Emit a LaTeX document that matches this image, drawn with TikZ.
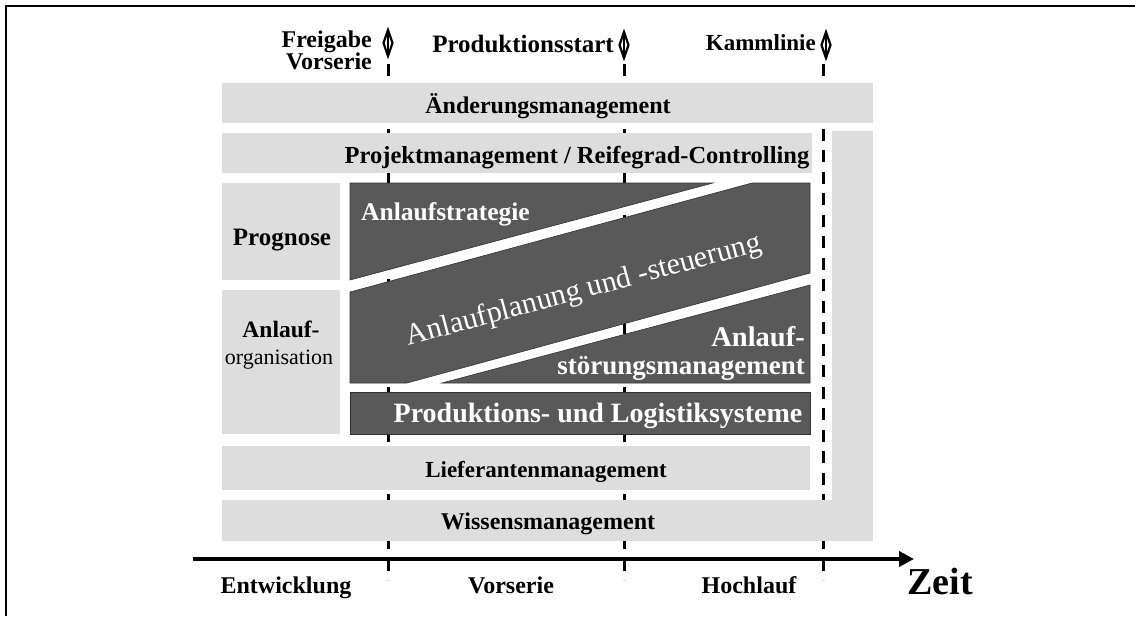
\documentclass[tikz,border=0pt]{standalone}
\usepackage{fontspec}
\setmainfont{Liberation Serif}
\usetikzlibrary{arrows.meta}
\definecolor{bandgray}{RGB}{221,221,221}
\definecolor{darkbox}{RGB}{89,89,89}
\begin{document}
\begin{tikzpicture}[x=1pt,y=-1pt,
  band/.style={fill=bandgray},
  dark/.style={fill=darkbox, draw=black!80, line width=0.6pt},
  lbl/.style={font=\bfseries\fontsize{#1}{#1}\selectfont, inner sep=0pt, text=black},
  lbl/.default=22,
  rlbl/.style={font=\fontsize{#1}{#1}\selectfont, inner sep=0pt},
  wlbl/.style={lbl=#1, text=white},
  wlbl/.default=25,
  phaseline/.style={line width=3pt, dash pattern=on 12pt off 9.5pt},
  milestone/.pic={
    \draw[line width=2.2pt, line join=miter] (0,-13) -- (4.5,0) -- (0,13) -- (-4.5,0) -- cycle;
    \draw[line width=1.4pt] (0,-13) -- (0,13);
  }]
\useasboundingbox (0,0) rectangle (1135,616);

% frame
\draw[line width=2pt] (6,616) -- (6,6) -- (1135,6);

% phase boundaries (behind the bands)
\coordinate (fTop) at (388,64);  \coordinate (fBot) at (388,580);
\coordinate (pTop) at (624,64);  \coordinate (pBot) at (624,580);
\coordinate (kTop) at (823,64);  \coordinate (kBot) at (823,580);
\draw[phaseline] (fTop) -- (fBot);
\draw[phaseline] (pTop) -- (pBot);
\draw[phaseline] (kTop) -- (kBot);

% milestones
\pic at (388,43) {milestone};
\pic at (624,45) {milestone};
\pic at (826,45) {milestone};

% light bands
\fill[band] (222,83) rectangle (873,123);
\fill[band] (222,133) rectangle (812,173);
\fill[band] (832,131) rectangle (873,541);
\fill[band] (222,183) rectangle (340,280);
\fill[band] (222,290) rectangle (340,434);
\fill[band] (222,446) rectangle (810,490);
\fill[band] (222,500) rectangle (873,541);

% dark blocks
\filldraw[dark] (350,183) -- (713,183) -- (350,280) -- cycle;
\filldraw[dark] (350,292) -- (752,183) -- (810,183) -- (810,273) -- (407,383) -- (350,383) -- cycle;
\filldraw[dark] (442,383) -- (810,285) -- (810,383) -- cycle;
\filldraw[dark] (350,392) rectangle (810,434);

% time axis
\coordinate (axStart) at (193,559);
\coordinate (axEnd) at (914,559);
\draw[line width=4pt, -{Triangle[length=15pt,width=15pt]}] (axStart) -- (axEnd);

% milestone labels
\node[lbl=24, align=right, anchor=east] (freigabe) at (372,50) {Freigabe\\[-2pt]Vorserie};
\node[lbl=25, anchor=base] (prodstart) at (523,52) {Produktionsstart};
\node[lbl=23, anchor=base east] (kamm) at (816,50) {Kammlinie};

% band labels
\node[lbl=24, anchor=base] (aend) at (548,113) {Änderungsmanagement};
\node[lbl=24.5, anchor=base] (projekt) at (577,163) {Projektmanagement / Reifegrad-Controlling};
\node[lbl=25, anchor=base] (prognose) at (282,245) {Prognose};
\node[lbl=23.5, anchor=base] (anlauf) at (281,337) {Anlauf-};
\node[rlbl=22, anchor=base] (organisation) at (279,364) {organisation};
\node[wlbl=25.5, anchor=base west] (strategie) at (361,220) {Anlaufstrategie};
\node[rlbl=30, text=white, rotate=15] (planung) at (584,291) {Anlaufplanung und -steuerung};
\node[wlbl=28.5, anchor=base east] (stoer1) at (805,346) {Anlauf-};
\node[wlbl=27, anchor=base east] (stoer2) at (805,374) {störungsmanagement};
\node[wlbl=28, anchor=base] (prodlog) at (598,422) {Produktions- und Logistiksysteme};
\node[lbl=23, anchor=base] (liefer) at (546,477) {Lieferantenmanagement};
\node[lbl=24, anchor=base] (wissen) at (548,529) {Wissensmanagement};

% phase names
\node[lbl=24, anchor=base] (entw) at (286,593) {Entwicklung};
\node[lbl=24, anchor=base] (vorserie) at (511,593) {Vorserie};
\node[lbl=24, anchor=base] (hochlauf) at (749,593) {Hochlauf};
\node[lbl=38, anchor=base] (zeit) at (940,594) {Zeit};
\end{tikzpicture}
\end{document}
